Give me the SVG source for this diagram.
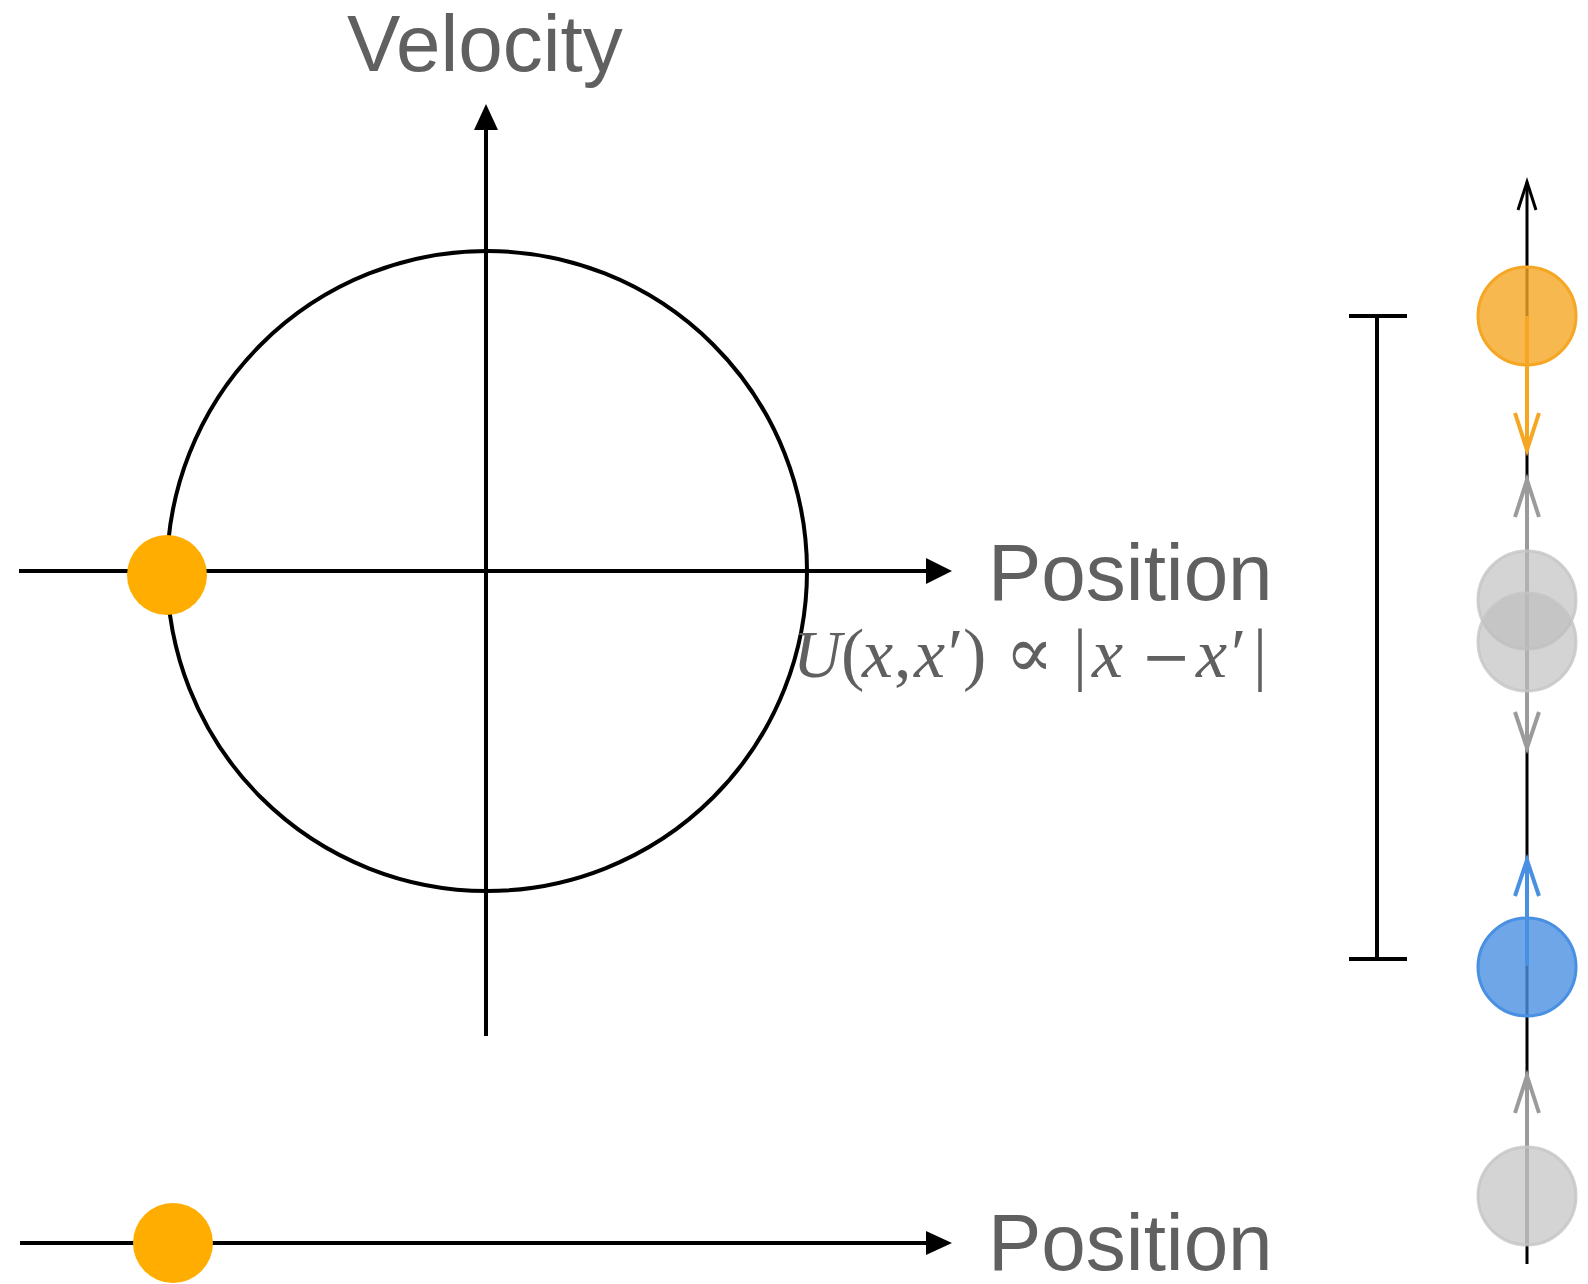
<svg xmlns="http://www.w3.org/2000/svg" width="1588" height="1284" viewBox="0 0 1588 1284">
<style>
.label{font-family:"Liberation Sans",Arial,sans-serif;font-size:80px;fill:#606060}
.math{font-family:"Liberation Serif","DejaVu Serif",serif;font-size:70px;fill:#606060}
.it{font-style:italic}
.bigU{font-size:67px}
.sym{font-family:"DejaVu Serif",serif;font-size:60px}
.prop{font-family:"DejaVu Serif",serif;font-size:72px}
.ax{stroke:#000;stroke-width:4;fill:none}
.thin{stroke:#000;stroke-width:3;fill:none}
.chev{fill:none;stroke-width:4;stroke-linejoin:miter;stroke-linecap:butt}
</style>
<rect width="1588" height="1284" fill="#fff"/>
<g id="connectors">
  <line class="ax" x1="486" y1="128" x2="486" y2="1036"/>
  <polygon points="486,104 474,130 498,130" fill="#000"/>
  <line class="ax" x1="19" y1="571" x2="930" y2="571"/>
  <polygon points="952,571 926,558 926,584" fill="#000"/>
  <line class="ax" x1="20" y1="1243" x2="930" y2="1243"/>
  <polygon points="952,1243 926,1231 926,1255" fill="#000"/>
  <line class="thin" x1="1527" y1="182" x2="1527" y2="1264"/>
  <polyline class="thin" points="1518,210 1527,182 1536,210"/>
  <line class="ax" x1="1377" y1="316" x2="1377" y2="959"/>
  <line class="ax" x1="1349" y1="316" x2="1407" y2="316"/>
  <line class="ax" x1="1349" y1="959" x2="1407" y2="959"/>
  <line x1="1527" y1="316" x2="1527" y2="448" stroke="#F5A623" stroke-width="4"/>
  <polyline class="chev" stroke="#F5A623" points="1515,413 1527,450 1539,413"/>
  <line x1="1527" y1="482" x2="1527" y2="746" stroke="#9B9B9B" stroke-width="4"/>
  <polyline class="chev" stroke="#9B9B9B" points="1515,517 1527,480 1539,517"/>
  <polyline class="chev" stroke="#9B9B9B" points="1515,712 1527,748 1539,712"/>
  <line x1="1527" y1="862" x2="1527" y2="966" stroke="#4A90E2" stroke-width="4"/>
  <polyline class="chev" stroke="#4A90E2" points="1515,896 1527,860 1539,896"/>
  <line x1="1527" y1="1078" x2="1527" y2="1245" stroke="#9B9B9B" stroke-width="4"/>
  <polyline class="chev" stroke="#9B9B9B" points="1515,1113 1527,1076 1539,1113"/>
</g>
<g id="phase-circle">
  <circle cx="487" cy="571" r="320" fill="none" stroke="#000" stroke-width="4"/>
</g>
<g id="dot-phase"><circle cx="167" cy="575" r="40" fill="#FFAD00"/></g>
<g id="dot-line"><circle cx="173" cy="1243" r="40" fill="#FFAD00"/></g>
<g id="ball-orange"><circle cx="1527" cy="316" r="49" fill="#F5A623" fill-opacity="0.8" stroke="#F5A623" stroke-width="3"/></g>
<g id="ball-gray-1"><circle cx="1527" cy="600" r="49" fill="#BDBDBD" fill-opacity="0.65" stroke="#C4C4C4" stroke-width="3" stroke-opacity="0.8"/></g>
<g id="ball-gray-2"><circle cx="1527" cy="642" r="49" fill="#BDBDBD" fill-opacity="0.65" stroke="#C4C4C4" stroke-width="3" stroke-opacity="0.8"/></g>
<g id="ball-blue"><circle cx="1527" cy="967" r="49" fill="#4A90E2" fill-opacity="0.8" stroke="#4A90E2" stroke-width="3"/></g>
<g id="ball-gray-3"><circle cx="1527" cy="1196" r="49" fill="#BDBDBD" fill-opacity="0.65" stroke="#C4C4C4" stroke-width="3" stroke-opacity="0.8"/></g>
<g id="labels">
  <text class="label" x="347" y="71">Velocity</text>
  <text class="label" x="988" y="600">Position</text>
  <text class="label" x="988" y="1270">Position</text>
  <text class="math" y="677"><tspan class="it bigU" x="793">U</tspan><tspan x="841">(</tspan><tspan class="it" x="862">x</tspan><tspan x="894">,</tspan><tspan class="it" x="914">x</tspan><tspan x="948">′</tspan><tspan x="963">)</tspan><tspan class="prop" x="1005">∝</tspan><tspan x="1073">|</tspan><tspan class="it" x="1092">x</tspan><tspan class="sym" x="1141">−</tspan><tspan class="it" x="1196">x</tspan><tspan x="1231">′</tspan><tspan x="1253">|</tspan></text>
</g>
</svg>
